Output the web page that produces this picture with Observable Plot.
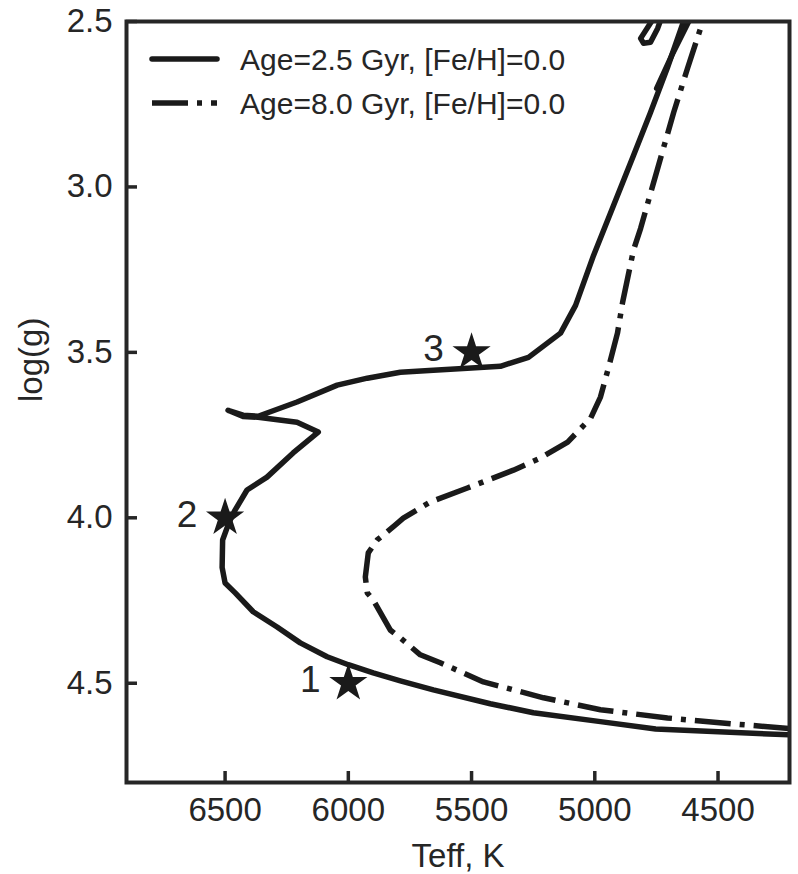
<!DOCTYPE html>
<html>
<head>
<meta charset="utf-8">
<script src="https://cdn.jsdelivr.net/npm/d3@7"></script>
<script src="https://cdn.jsdelivr.net/npm/@observablehq/plot@0.6"></script>
<style>
  html, body { margin: 0; padding: 0; background: #fff; }
  #chart { width: 798px; height: 874px; }
</style>
</head>
<body>
<div id="chart"></div>
<script>
// Isochrone, 2.5 Gyr, [Fe/H]=0.0 — main track from the lower main sequence up the giant branch
const teffYoung = [4210, 4753, 4977, 5249, 5424, 5655, 5789, 5899, 6000, 6086, 6195, 6289, 6386,
  6459, 6500, 6512, 6510, 6485, 6462, 6411, 6330, 6224, 6122, 6208, 6366, 6427, 6488, 6427, 6366,
  6208, 6045, 5923, 5789, 5655, 5517, 5383, 5269, 5139, 5078, 5005, 4924, 4843, 4774, 4705, 4640];
const loggYoung = [4.656, 4.638, 4.616, 4.589, 4.562, 4.520, 4.493, 4.469, 4.444, 4.420, 4.378, 4.330, 4.284,
  4.227, 4.197, 4.150, 4.067, 4.016, 3.980, 3.916, 3.877, 3.804, 3.741, 3.711, 3.696, 3.694, 3.675, 3.690, 3.693,
  3.650, 3.599, 3.578, 3.560, 3.554, 3.548, 3.542, 3.515, 3.442, 3.358, 3.207, 3.056, 2.905, 2.775, 2.639, 2.500];

// 2.5 Gyr, upper branch running next to the giant branch
const teffYoungUpper = [4749, 4688, 4619];
const loggYoungUpper = [2.702, 2.603, 2.500];

// 2.5 Gyr, core-helium-burning loop
const teffYoungLoop = [4770, 4814, 4802, 4774, 4745, 4735];
const loggYoungLoop = [2.500, 2.551, 2.566, 2.563, 2.521, 2.500];

// Isochrone, 8.0 Gyr, [Fe/H]=0.0
const teffOld = [4210, 4437, 4705, 4977, 5208, 5452, 5627, 5708, 5789, 5830, 5899, 5923, 5931, 5919,
  5883, 5810, 5777, 5667, 5517, 5330, 5220, 5110, 5017, 4977, 4944, 4908, 4887, 4843, 4814, 4745,
  4680, 4624, 4571, 4558];
const loggOld = [4.637, 4.623, 4.605, 4.580, 4.544, 4.496, 4.438, 4.414, 4.363, 4.339, 4.248, 4.227, 4.179, 4.106,
  4.067, 4.022, 4.001, 3.952, 3.910, 3.856, 3.819, 3.771, 3.699, 3.635, 3.545, 3.442, 3.348, 3.191, 3.125, 2.944,
  2.775, 2.642, 2.521, 2.500];

// Marked stars
const starTeff = [6000, 6500, 5500];
const starLogg = [4.5, 4.0, 3.5];
const starLabels = ["1", "2", "3"];

// Axes
const xTicks = [6500, 6000, 5500, 5000, 4500];
const yTicks = [2.5, 3.0, 3.5, 4.0, 4.5];
const xLabel = "Teff, K";
const yLabel = "log(g)";

// Legend
const legendLabels = ["Age=2.5 Gyr, [Fe/H]=0.0", "Age=8.0 Gyr, [Fe/H]=0.0"];

const toPoints = (teff, logg) => teff.map((t, i) => ({teff: t, logg: logg[i]}));
const young = toPoints(teffYoung, loggYoung);
const youngUpper = toPoints(teffYoungUpper, loggYoungUpper);
const youngLoop = toPoints(teffYoungLoop, loggYoungLoop);
const old = toPoints(teffOld, loggOld);
const stars = starTeff.map((t, i) => ({teff: t, logg: starLogg[i], label: starLabels[i]}));

const width = 798, height = 874;
const marginLeft = 126, marginRight = 9, marginTop = 21, marginBottom = 92;
const plotW = width - marginLeft - marginRight;
const plotH = height - marginTop - marginBottom;

const ink = "#1a1a1a";
const axisInk = "#262626";
const lineWidth = 5.5;
const dashDot = "36,9,5,9";
const font = "'Liberation Sans', Arial, Helvetica, sans-serif";

const solidStyle = {x: "teff", y: "logg", stroke: ink, strokeWidth: lineWidth, strokeLinejoin: "round", strokeLinecap: "round", clip: true};

// Line-style key in the upper-left corner of the frame
function legend(index, scales, values, dims) {
  const g = d3.create("svg:g")
    .attr("font-family", font).attr("font-size", 30)
    .attr("fill", axisInk).attr("text-anchor", "start");
  const x0 = dims.marginLeft + 26, x1 = dims.marginLeft + 91, xt = dims.marginLeft + 114;
  const rows = [dims.marginTop + 38, dims.marginTop + 82];
  legendLabels.forEach((label, i) => {
    g.append("line")
      .attr("x1", x0).attr("x2", x1).attr("y1", rows[i]).attr("y2", rows[i])
      .attr("stroke", ink).attr("stroke-width", lineWidth)
      .attr("stroke-linecap", i === 0 ? "round" : "butt")
      .attr("stroke-dasharray", i === 0 ? null : dashDot);
    g.append("text").attr("x", xt).attr("y", rows[i]).attr("dy", "0.35em").text(label);
  });
  return g.node();
}

const chart = Plot.plot({
  width, height, marginLeft, marginRight, marginTop, marginBottom,
  style: {fontFamily: font, color: axisInk, background: "#fff", overflow: "visible"},
  x: {domain: [6900, 4210], ticks: xTicks},
  y: {domain: [2.5, 4.8], reverse: true, ticks: yTicks},
  marks: [
    Plot.axisX({ticks: xTicks, tickSize: 0, tickPadding: 15, fontSize: 33, tickFormat: "d", label: null}),
    Plot.axisY({ticks: yTicks, tickSize: 0, tickPadding: 14, fontSize: 33, tickFormat: ".1f", label: null}),
    Plot.tickX(xTicks, {x: d => d, stroke: axisInk, strokeWidth: 3.5, insetTop: plotH - 11}),
    Plot.tickY(yTicks, {y: d => d, stroke: axisInk, strokeWidth: 3.5, insetRight: plotW - 11}),
    Plot.text([xLabel], {text: d => d, frameAnchor: "bottom", dy: 61, lineAnchor: "top", fontSize: 33, fill: axisInk}),
    Plot.text([yLabel], {text: d => d, frameAnchor: "left", dx: -108, rotate: -90, lineAnchor: "top", fontSize: 33, fill: axisInk}),
    Plot.line(old, {x: "teff", y: "logg", stroke: ink, strokeWidth: lineWidth, strokeDasharray: dashDot, strokeLinecap: "butt", strokeLinejoin: "round", clip: true}),
    Plot.line(young, solidStyle),
    Plot.line(youngUpper, solidStyle),
    Plot.line(youngLoop, solidStyle),
    Plot.dot(stars, {x: "teff", y: "logg", symbol: "star", r: 12, fill: ink, stroke: "none"}),
    Plot.text(stars, {x: "teff", y: "logg", text: "label", dx: -38, dy: -3, fontSize: 37, fill: axisInk}),
    legend,
    Plot.frame({stroke: axisInk, strokeWidth: 4})
  ]
});

document.getElementById("chart").append(chart);
</script>
</body>
</html>
